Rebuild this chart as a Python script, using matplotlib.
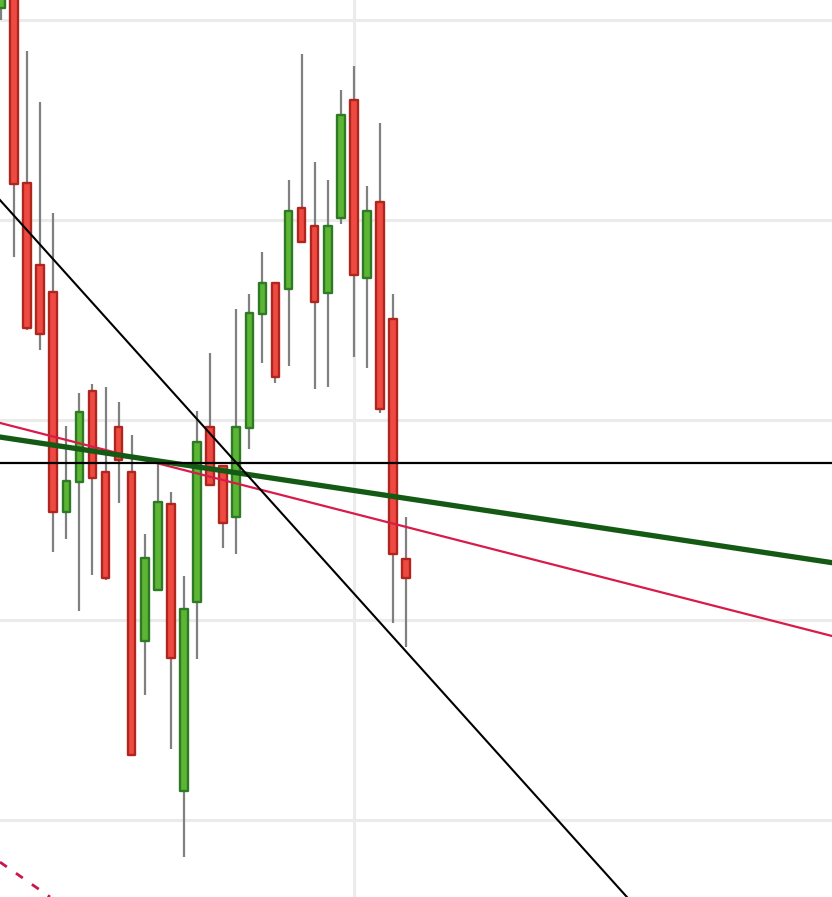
import numpy as np
import matplotlib
matplotlib.use("Agg")
import matplotlib.pyplot as plt

# OHLC (arbitrary price units, grid every 50)
opens = [1403.0, 1415.0, 1359.25, 1338.75, 1332.0, 1277.0, 1284.5, 1307.25, 1287.0, 1298.25,
         1287.0, 1244.75, 1257.5, 1279.0, 1207.25, 1254.5, 1298.25, 1288.5, 1275.75, 1298.0,
         1326.5, 1334.25, 1332.75, 1353.0, 1348.5, 1331.75, 1350.5, 1380.0, 1335.5, 1354.5,
         1325.25, 1265.25]
highs = [1412.5, 1420.0, 1392.25, 1379.5, 1351.75, 1298.5, 1306.75, 1309.0, 1308.25, 1304.5,
         1296.25, 1271.5, 1289.25, 1282.0, 1261.0, 1302.25, 1316.75, 1288.5, 1327.75, 1331.5,
         1342.0, 1334.25, 1360.0, 1391.5, 1364.5, 1360.0, 1382.5, 1388.5, 1358.5, 1374.25,
         1331.5, 1275.75]
lows = [1400.0, 1340.75, 1322.5, 1317.5, 1267.0, 1270.25, 1252.25, 1261.25, 1260.0, 1279.25,
        1216.0, 1231.25, 1257.5, 1217.75, 1190.75, 1240.25, 1283.75, 1268.0, 1266.5, 1292.75,
        1314.25, 1309.25, 1313.5, 1344.5, 1307.75, 1308.25, 1349.0, 1315.75, 1313.0, 1301.75,
        1249.25, 1243.25]
closes = [1410.0, 1359.0, 1323.0, 1321.5, 1277.0, 1284.75, 1302.0, 1285.5, 1260.5, 1290.0,
          1216.25, 1265.5, 1279.5, 1240.5, 1252.75, 1294.5, 1283.75, 1274.25, 1298.25, 1326.75,
          1334.25, 1310.75, 1352.25, 1344.5, 1329.5, 1348.5, 1376.25, 1336.25, 1352.25, 1302.75,
          1266.5, 1260.5]

# drawn lines: (x0, y0), (x1, y1) in bar index / price
trend_black = [(0, 1354.7), (40, 1209.4)]
level_black = 1289.25
trend_red = [(0, 1299.2), (60, 1249.0)]
trend_green = [(0, 1295.7), (60, 1266.1)]
trend_red_dash = [(0, 1189.3), (10, 1166.5)]

grid_prices = [1200, 1250, 1300, 1350, 1400]
grid_bar = 27

fig = plt.figure(figsize=(8.32, 8.97), dpi=100)
ax = fig.add_axes([0, 0, 1, 1])
ax.set_xlim(-0.077, 63.58)
ax.set_ylim(1180.75, 1405)
ax.set_axis_off()

for p in grid_prices:
    ax.axhline(p, color="#ebebeb", lw=2.2, zorder=0)
ax.axvline(grid_bar, color="#ebebeb", lw=2.2, zorder=0)

o = np.array(opens); h = np.array(highs); l = np.array(lows); c = np.array(closes)
idx = np.arange(len(o))
up = c >= o

ax.vlines(idx, l, h, color="#808080", lw=1.6, zorder=2)
ax.bar(idx[up], (c - o)[up], bottom=o[up], width=0.58, color="#5db534",
       edgecolor="#2f7a26", linewidth=1.7, joinstyle="round", zorder=3)
ax.bar(idx[~up], (o - c)[~up], bottom=c[~up], width=0.58, color="#ee4a42",
       edgecolor="#b0261f", linewidth=1.7, joinstyle="round", zorder=3)

def draw_line(pts, **kw):
    (x0, y0), (x1, y1) = pts
    ax.axline((x0, y0), (x1, y1), **kw)

draw_line(trend_red, color="#d81b4a", lw=1.6, zorder=5)
draw_line(trend_green, color="#145a14", lw=3.8, zorder=6)
draw_line(trend_black, color="black", lw=1.5, zorder=7)
ax.axhline(level_black, color="black", lw=1.6, zorder=7)
draw_line(trend_red_dash, color="#c8174a", lw=2.0, ls=(0, (3, 4)), zorder=5)

fig.savefig("out.png", dpi=100)
